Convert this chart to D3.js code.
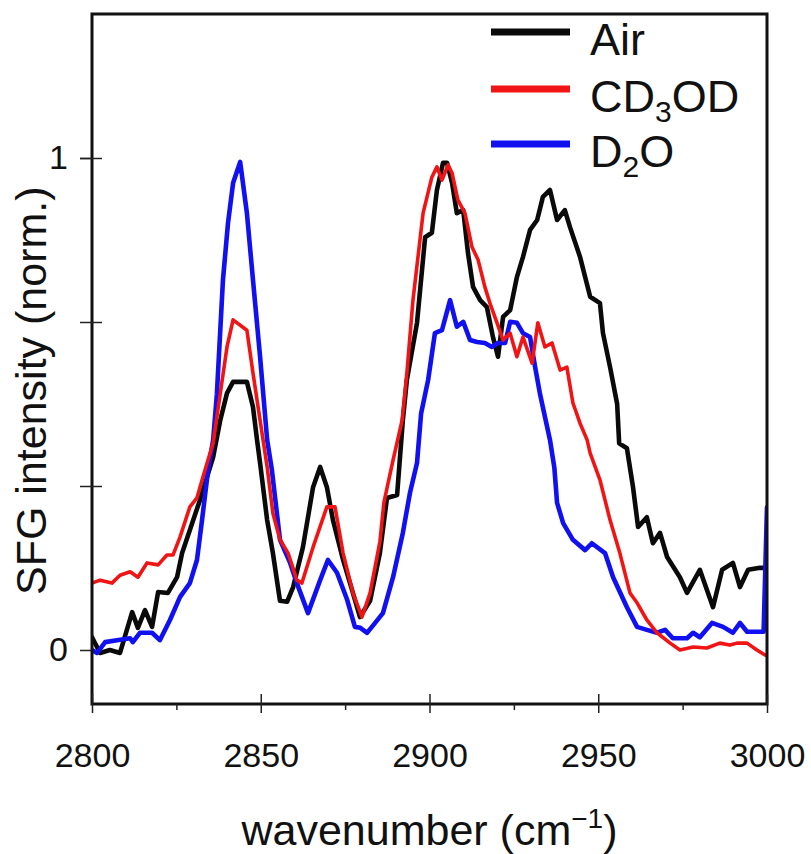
<!DOCTYPE html>
<html>
<head>
<meta charset="utf-8">
<script src="https://cdn.jsdelivr.net/npm/d3@7"></script>
<style>
  html, body { margin: 0; padding: 0; background: #fff; }
  svg { display: block; }
  text { font-family: "Liberation Sans", Arial, Helvetica, sans-serif; fill: #111; }
</style>
</head>
<body>
<svg id="chart" width="811" height="854"></svg>
<script>
// SFG spectra, normalized intensity vs wavenumber (cm^-1)
const airWn = [2800, 2802.4, 2805.3, 2808.3, 2811.9, 2813.6, 2815.7, 2817.8, 2819.6, 2822.5, 2825.2, 2826.7, 2829, 2832, 2835.9, 2838, 2840, 2841.8, 2845.9, 2847.7, 2848.9, 2849.8, 2851.9, 2853.6, 2855.7, 2857.8, 2859.6, 2862.5, 2865.5, 2867.6, 2869.6, 2871.4, 2874.4, 2877.3, 2879.4, 2882.4, 2885.3, 2887.4, 2890.4, 2892.1, 2893.3, 2896.3, 2898.7, 2900.7, 2902.2, 2904, 2905.2, 2906.7, 2908.1, 2910, 2911.4, 2912.9, 2915, 2917, 2918.8, 2920.3, 2921.8, 2923.9, 2925.9, 2927.7, 2929.8, 2931.9, 2933.6, 2935.7, 2937.8, 2940.1, 2941.6, 2944.6, 2947.6, 2950.5, 2951.4, 2953.5, 2955.6, 2956.2, 2958.5, 2960.3, 2961.8, 2964.4, 2966.2, 2968.3, 2970.4, 2974.2, 2976.3, 2980.1, 2984, 2986.7, 2989.9, 2992, 2994.4, 2997.9, 2998.8];
const airInt = [0.026, -0.006, 0, -0.006, 0.077, 0.045, 0.081, 0.047, 0.118, 0.116, 0.148, 0.197, 0.244, 0.305, 0.392, 0.467, 0.522, 0.545, 0.545, 0.494, 0.427, 0.38, 0.264, 0.197, 0.10, 0.098, 0.128, 0.209, 0.331, 0.372, 0.331, 0.264, 0.183, 0.116, 0.067, 0.10, 0.197, 0.309, 0.315, 0.467, 0.549, 0.665, 0.839, 0.848, 0.935, 0.99, 0.99, 0.949, 0.888, 0.894, 0.807, 0.738, 0.711, 0.697, 0.636, 0.596, 0.677, 0.691, 0.758, 0.799, 0.854, 0.874, 0.921, 0.935, 0.874, 0.894, 0.86, 0.799, 0.718, 0.705, 0.644, 0.575, 0.50, 0.42, 0.41, 0.331, 0.25, 0.27, 0.217, 0.238, 0.189, 0.148, 0.116, 0.163, 0.087, 0.163, 0.177, 0.128, 0.163, 0.167, 0.167];

const cd3odWn = [2800, 2802.4, 2805.9, 2808.3, 2811.3, 2813.6, 2816.3, 2819.6, 2822.2, 2824, 2826.1, 2829, 2831.1, 2832.9, 2835.9, 2837, 2840, 2841.8, 2845.9, 2847.7, 2849.8, 2851.9, 2853.6, 2855.7, 2858.1, 2860.7, 2862.2, 2865.5, 2869.6, 2872, 2874.4, 2877.3, 2880, 2882.4, 2885.3, 2886.5, 2889.2, 2891.9, 2893.3, 2895.1, 2898.1, 2900.7, 2902.2, 2903.7, 2905.5, 2906.7, 2908.4, 2910.5, 2912.6, 2914.4, 2916.4, 2917.9, 2920, 2921.8, 2923.9, 2925.9, 2927.7, 2930.4, 2932.1, 2934.2, 2936.3, 2938.7, 2940.7, 2942.5, 2944.6, 2946.7, 2947.6, 2950.5, 2953.5, 2956.4, 2959.4, 2961.5, 2964.4, 2967.4, 2971.3, 2974.2, 2978.1, 2982.2, 2986, 2989, 2991.1, 2994.1, 2997, 2999.4, 3000];
const cd3odInt = [0.136, 0.142, 0.136, 0.152, 0.159, 0.148, 0.177, 0.173, 0.193, 0.193, 0.23, 0.291, 0.309, 0.352, 0.421, 0.474, 0.616, 0.671, 0.65, 0.563, 0.467, 0.372, 0.278, 0.224, 0.197, 0.142, 0.136, 0.209, 0.291, 0.291, 0.197, 0.116, 0.067, 0.116, 0.22, 0.30, 0.386, 0.467, 0.563, 0.711, 0.888, 0.961, 0.982, 0.955, 0.986, 0.969, 0.915, 0.888, 0.819, 0.793, 0.738, 0.705, 0.665, 0.63, 0.644, 0.596, 0.636, 0.583, 0.665, 0.616, 0.624, 0.569, 0.575, 0.502, 0.461, 0.427, 0.40, 0.346, 0.264, 0.197, 0.116, 0.096, 0.061, 0.035, 0.014, 0, 0.006, 0.004, 0.014, 0.01, 0.014, 0.014, 0, -0.01, -0.012];

const d2oWn = [2800, 2801.5, 2803.9, 2807.4, 2811.3, 2812.1, 2814.2, 2817.8, 2820.1, 2823.1, 2826.1, 2829, 2831.1, 2832.6, 2834.4, 2835.9, 2837, 2838.8, 2840.3, 2841.8, 2843.9, 2845.9, 2847.7, 2849.8, 2851.9, 2853.3, 2855.7, 2858.7, 2860.7, 2864, 2867.6, 2869.9, 2872.6, 2875.6, 2877.9, 2879.5, 2881.5, 2883.3, 2886.2, 2889.2, 2892.1, 2894.2, 2896.3, 2897.5, 2899.6, 2901.6, 2903.7, 2906.1, 2908.1, 2910, 2912, 2914.1, 2916.4, 2918.5, 2920.3, 2922.4, 2923.9, 2925.9, 2927.7, 2929.8, 2931.3, 2932.7, 2934.2, 2935.7, 2937, 2937.8, 2939.6, 2942.5, 2946.1, 2948.1, 2952, 2954.4, 2958.5, 2961.5, 2964.4, 2967.4, 2969.8, 2972.1, 2976.3, 2978.1, 2980.1, 2983.7, 2987, 2989.9, 2992, 2994.1, 2997.3, 2999, 3000];
const d2oInt = [0, -0.006, 0.016, 0.02, 0.024, 0.016, 0.035, 0.035, 0.02, 0.061, 0.108, 0.136, 0.183, 0.264, 0.366, 0.427, 0.52, 0.752, 0.868, 0.949, 0.992, 0.888, 0.752, 0.596, 0.427, 0.366, 0.224, 0.177, 0.136, 0.075, 0.142, 0.183, 0.157, 0.102, 0.047, 0.045, 0.035, 0.05, 0.075, 0.148, 0.238, 0.319, 0.38, 0.48, 0.549, 0.644, 0.65, 0.711, 0.657, 0.667, 0.63, 0.626, 0.624, 0.616, 0.624, 0.624, 0.667, 0.665, 0.644, 0.636, 0.575, 0.522, 0.474, 0.427, 0.37, 0.299, 0.258, 0.224, 0.203, 0.217, 0.197, 0.148, 0.087, 0.047, 0.041, 0.035, 0.041, 0.024, 0.024, 0.035, 0.026, 0.055, 0.047, 0.035, 0.055, 0.037, 0.037, 0.037, 0.29];

const xMajorTicks = [2800, 2850, 2900, 2950, 3000];
const xMinorTicks = [2825, 2875, 2925, 2975];
const yLabelTicks = [0, 1];
const yInnerTicks = [1 / 3, 2 / 3, 1];

const seriesNames = ["Air", "CD3OD", "D2O"];
const seriesColors = ["#0a0a0a", "#f01414", "#1010f0"];
const seriesWidths = [4.6, 3.6, 4.6];

const series = [
  { name: seriesNames[0], wn: airWn, val: airInt, color: seriesColors[0], width: seriesWidths[0] },
  { name: seriesNames[1], wn: cd3odWn, val: cd3odInt, color: seriesColors[1], width: seriesWidths[1] },
  { name: seriesNames[2], wn: d2oWn, val: d2oInt, color: seriesColors[2], width: seriesWidths[2] }
];

const svg = d3.select("#chart");
const plotLeft = 92, plotRight = 767, plotTop = 14, plotBottom = 704;

const x = d3.scaleLinear().domain([2800, 3000]).range([plotLeft, plotRight]);
const y = d3.scaleLinear().domain([0, 1]).range([650, 158]);

svg.append("defs").append("clipPath").attr("id", "plotClip")
  .append("rect").attr("x", plotLeft).attr("y", plotTop)
  .attr("width", plotRight - plotLeft).attr("height", plotBottom - plotTop);

// spectra (drawn order: air, D2O, CD3OD on top)
const line = d3.line().x(d => x(d[0])).y(d => y(d[1]));
const plot = svg.append("g").attr("clip-path", "url(#plotClip)");
[series[0], series[2], series[1]].forEach(s => {
  plot.append("path")
    .datum(s.wn.map((w, i) => [w, s.val[i]]))
    .attr("fill", "none")
    .attr("stroke", s.color)
    .attr("stroke-width", s.width)
    .attr("stroke-linejoin", "round")
    .attr("stroke-linecap", "round")
    .attr("d", line);
});

// frame
svg.append("rect")
  .attr("x", plotLeft).attr("y", plotTop)
  .attr("width", plotRight - plotLeft).attr("height", plotBottom - plotTop)
  .attr("fill", "none").attr("stroke", "#111").attr("stroke-width", 3);

// x axis: labelled major ticks outward, inward extension, minor ticks
const xAxis = svg.append("g").attr("transform", `translate(0,${plotBottom})`)
  .call(d3.axisBottom(x).tickValues(xMajorTicks).tickSize(9).tickPadding(30).tickFormat(d3.format("d")));
xAxis.select(".domain").remove();
xAxis.selectAll(".tick line").attr("stroke", "#222").attr("stroke-width", 1.5);
xAxis.selectAll(".tick text").attr("font-size", 34).style("fill", "#111")
  .attr("font-family", "Liberation Sans, Arial, sans-serif");

svg.append("g").attr("transform", `translate(0,${plotBottom})`)
  .call(d3.axisBottom(x).tickValues(xMajorTicks).tickSize(-10).tickFormat(""))
  .call(g => g.select(".domain").remove())
  .selectAll(".tick line").attr("stroke", "#222").attr("stroke-width", 1.5);

svg.append("g").attr("transform", `translate(0,${plotBottom})`)
  .call(d3.axisBottom(x).tickValues(xMinorTicks).tickSize(6).tickFormat(""))
  .call(g => g.select(".domain").remove())
  .selectAll(".tick line").attr("stroke", "#222").attr("stroke-width", 1.5);

// y axis
const yAxis = svg.append("g").attr("transform", `translate(${plotLeft},0)`)
  .call(d3.axisLeft(y).tickValues(yLabelTicks).tickSize(12).tickPadding(12).tickFormat(d3.format("d")));
yAxis.select(".domain").remove();
yAxis.selectAll(".tick line").attr("stroke", "#222").attr("stroke-width", 1.5);
yAxis.selectAll(".tick text").attr("font-size", 34).style("fill", "#111")
  .attr("font-family", "Liberation Sans, Arial, sans-serif");

svg.append("g").attr("transform", `translate(${plotLeft},0)`)
  .call(d3.axisLeft(y).tickValues(yInnerTicks).tickSize(12).tickFormat(""))
  .call(g => g.select(".domain").remove())
  .selectAll(".tick line").attr("stroke", "#222").attr("stroke-width", 1.5);
svg.append("g").attr("transform", `translate(${plotLeft},0)`)
  .call(d3.axisLeft(y).tickValues(yInnerTicks).tickSize(-10).tickFormat(""))
  .call(g => g.select(".domain").remove())
  .selectAll(".tick line").attr("stroke", "#222").attr("stroke-width", 1.5);

// axis titles
const xt = svg.append("text")
  .attr("x", (plotLeft + plotRight) / 2).attr("y", 845)
  .attr("text-anchor", "middle").attr("font-size", 43);
xt.append("tspan").text("wavenumber (cm");
xt.append("tspan").attr("font-size", 28).attr("dy", -17).text("\u22121");
xt.append("tspan").attr("dy", 17).text(")");

svg.append("text")
  .attr("transform", "translate(46,595) rotate(-90)")
  .attr("text-anchor", "start").attr("font-size", 43)
  .text("SFG intensity (norm.)");

// legend
const legendRows = [32, 89, 144];
const legend = svg.append("g");
series.forEach((s, i) => {
  legend.append("line")
    .attr("x1", 491).attr("x2", 570)
    .attr("y1", legendRows[i]).attr("y2", legendRows[i])
    .attr("stroke", s.color).attr("stroke-width", 7);
});
const lt = legend.append("g").attr("font-size", 45);
lt.append("text").attr("x", 590).attr("y", 55).text("Air");
const t2 = lt.append("text").attr("x", 590).attr("y", 112);
t2.append("tspan").text("CD");
t2.append("tspan").attr("font-size", 30).attr("dy", 10).text("3");
t2.append("tspan").attr("dy", -10).text("OD");
const t3 = lt.append("text").attr("x", 590).attr("y", 167);
t3.append("tspan").text("D");
t3.append("tspan").attr("font-size", 30).attr("dy", 10).text("2");
t3.append("tspan").attr("dy", -10).text("O");
</script>
</body>
</html>
